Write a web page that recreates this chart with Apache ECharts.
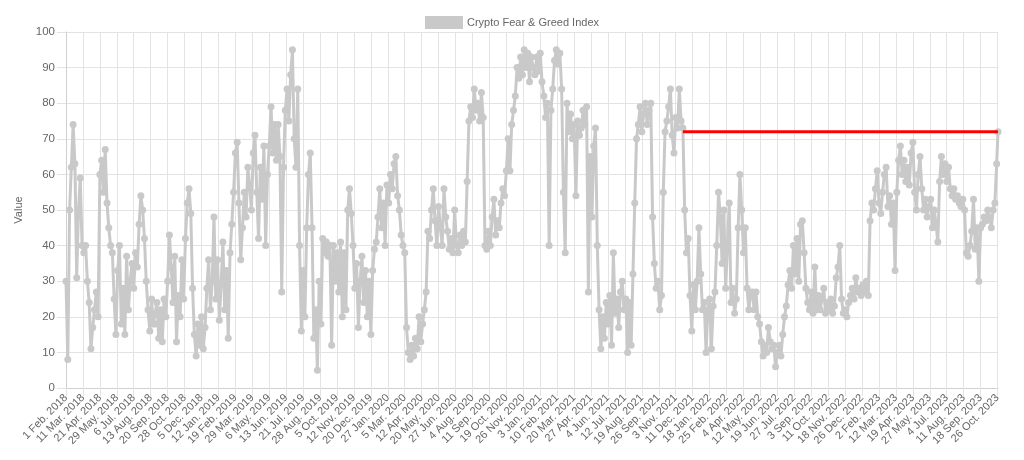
<!DOCTYPE html>
<html><head><meta charset="utf-8">
<script src="https://cdn.jsdelivr.net/npm/echarts@6/dist/echarts.min.js"></script>
<style>html,body{margin:0;padding:0;background:#fff}#c{width:1024px;height:460px}</style>
</head><body><div id="c"></div>
<script>
const seriesName = 'Crypto Fear & Greed Index';
const yAxisName = 'Value';
const startDate = '2018-02-01';
const endDate = '2023-10-27';
const missingDates = ['2018-04-14', '2018-04-15', '2018-04-16'];
const monthNames = ['Jan', 'Feb', 'Mar', 'Apr', 'May', 'Jun', 'Jul', 'Aug', 'Sep', 'Oct', 'Nov', 'Dec'];
const sampleStep = 4; // one reading every 4th day
const part1 = [30,8,50,62,74,63,31,50,59,40,38,40,30,24,11,17,22,27,20,60,64,55,67,52,45,40,38,25,15,33,40,18,28,15,37,22,30,35,28,38,34,46,54,50,42,30,22,16,25,18];
const part2 = [18,24,14,22,13,25,20,30,43,34,24,37,13,26,20,36,25,42,52,56,49,28,15,9,18,12,20,11,17,28,36,22,30,48,25,36,19,29,41,22,33,14,38,46,55,66,69,52,36,45,55,48,62,57];
const part3 = [50,66,71,55,42,62,53,68,40,60,68,79,66,74,64,74,65,27,62,78,84,75,88,95,70,62,84,40,16,33,20,45,60,66,45,14,22,5,30,18,42,38,41,37,40,12,40,30,38,27,41,20,38];
const part4 = [22,50,56,49,40,28,35,17,30,37,24,33,20,30,15,33,39,41,48,56,45,52,40,57,52,60,56,63,65,54,50,43,40,38,17,10,8,12,9,14,11,20,13,18,22,27,44,42,50,56,47,40,51];
const part5 = [45,40,56,48,44,39,42,38,50,40,38,43,40,44,41,58,75,79,76,84,78,80,75,83,76,40,39,44,40,48,53,43,47,45,52,56,54,61,70,61,74,78,82,90,87,93,88,95,90,94,86,93,90];
const part6 = [88,93,89,94,86,82,76,80,40,78,84,92,95,91,94,84,55,38,80,72,77,70,74,54,75,71,73,78,74,79,27,65,48,68,73,40,22,11,20,14,24,18,26,12,38,21,25,17,27,30,22,25,10,24];
const part7 = [12,32,52,70,74,79,72,77,80,74,78,80,48,35,28,30,22,26,55,72,75,79,84,71,66,76,73,84,75,73,50,38,42,26,16,29,22,30,45,32,22,24,10,22,25,11,23,27,40,55,48,35,50];
const part8 = [28,40,52,24,28,21,25,45,60,50,38,45,28,22,26,27,22,27,20,18,13,9,12,10,17,13,11,12,6,10,12,9,15,20,23,29,33,28,40,32,42,30,46,47,38,28,24,22,27,21,34,22,26];
const part9 = [22,25,28,21,24,22,25,21,23,31,34,40,25,21,22,20,24,26,28,25,31,27,28,26,29,27,30,26,47,52,50,56,61,52,49,55,60,62,51,54,46,52,33,55,64,68,60,64,58,62,57,66,69,55];
const part10 = [50,60,65,56,50,53,48,51,53,45,50,46,41,58,65,60,63,58,62,56,54,56,53,54,52,51,53,50,38,37,40,44,53,39,45,30,45,46,48,47,50,48,45,50,52,63];
const lastValue = 72;
const thresholdValue = 72;
const thresholdStartDate = '2021-11-19';

function fmt(d) {
  return d.getUTCDate() + ' ' + monthNames[d.getUTCMonth()] + '. ' + d.getUTCFullYear();
}
const categories = [];
const isoList = [];
{
  const d = new Date(startDate + 'T00:00:00Z');
  const end = new Date(endDate + 'T00:00:00Z').getTime();
  while (d.getTime() <= end) {
    const iso = d.toISOString().slice(0, 10);
    if (!missingDates.includes(iso)) { categories.push(fmt(d)); isoList.push(iso); }
    d.setUTCDate(d.getUTCDate() + 1);
  }
}
const values = [].concat(part1, part2, part3, part4, part5, part6, part7, part8, part9, part10);
const mainData = values.map((v, k) => [k * sampleStep, v]);
mainData.push([categories.length - 1, lastValue]);
const thrStart = isoList.indexOf(thresholdStartDate);
const thresholdData = [[thrStart, thresholdValue], [categories.length - 1, thresholdValue]];

const font = 'Liberation Sans, Arial, Helvetica, sans-serif';
const grey = '#c9c9c9';
const chart = echarts.init(document.getElementById('c'));
chart.setOption({
  animation: false,
  textStyle: { fontFamily: font },
  legend: {
    top: 11, left: 'center', data: [seriesName], icon: 'rect', itemGap: 5,
    itemWidth: 38, itemHeight: 13, textStyle: { color: '#666', fontSize: 11, fontFamily: font, padding: [0, 0, 0, -1] }
  },
  grid: { left: 66, right: 26, top: 32, bottom: 72 },
  xAxis: {
    type: 'category', data: categories, boundaryGap: false,
    axisLine: { lineStyle: { color: '#d0d0d0' } },
    axisTick: { show: true, interval: 37, length: 8, lineStyle: { color: '#e3e3e3' } },
    axisLabel: { interval: 37, rotate: 45, color: '#666', fontSize: 11, margin: 8, fontFamily: font },
    splitLine: { show: true, interval: 37, lineStyle: { color: '#e3e3e3' } }
  },
  yAxis: {
    type: 'value', min: 0, max: 100, interval: 10,
    name: yAxisName, nameLocation: 'middle', nameGap: 28, nameRotate: 90,
    nameTextStyle: { color: '#666', fontSize: 11, fontFamily: font },
    axisLine: { show: true, lineStyle: { color: '#d0d0d0' } },
    axisTick: { show: true, length: 9, lineStyle: { color: '#e3e3e3' } },
    axisLabel: { color: '#666', fontSize: 11.5, margin: 11, fontFamily: font },
    splitLine: { show: true, lineStyle: { color: '#e3e3e3' } }
  },
  series: [
    {
      name: seriesName, type: 'line', data: mainData,
      symbol: 'circle', symbolSize: 7, showAllSymbol: true,
      lineStyle: { width: 3, color: grey }, itemStyle: { color: grey }, z: 2
    },
    {
      name: 'threshold', type: 'line', data: thresholdData, symbol: 'none',
      lineStyle: { width: 3, color: '#ff0000' }, z: 3, silent: true
    }
  ]
});
</script>
</body></html>
